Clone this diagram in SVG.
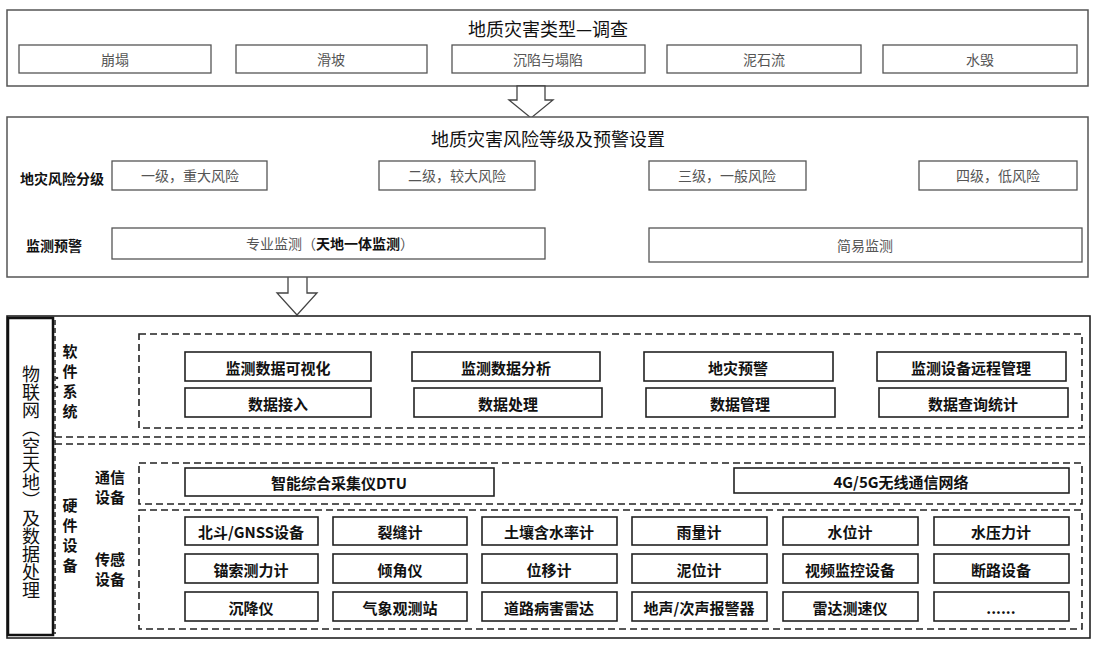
<svg xmlns="http://www.w3.org/2000/svg" width="1097" height="645" viewBox="0 0 1097 645">
<style>
text{font-family:"Noto Sans CJK SC","Noto Sans",sans-serif;text-anchor:middle;dominant-baseline:central}
.frame{fill:#fff;stroke:#555;stroke-width:1.5}
.g{fill:#fff;stroke:#555;stroke-width:1.3}
.gt{font-size:14px;fill:#555}
.ttl{font-size:18px;fill:#111}
.lbl{font-size:14px;font-weight:bold;fill:#111}
.b{fill:#fff;stroke:#222;stroke-width:1.6}
.bt{font-size:15px;font-weight:bold;fill:#111}
.d{fill:none;stroke:#222;stroke-width:1.6;stroke-dasharray:7,4}
.arr{fill:#fff;stroke:#444;stroke-width:1.3}
.v{writing-mode:vertical-rl;text-anchor:start;dominant-baseline:central}
</style>
<rect width="1097" height="645" fill="#fff"/>
<g id="survey">
<rect class="frame" x="7" y="10" width="1081" height="76"/>
<text class="ttl" x="548" y="28">地质灾害类型—调查</text>
<rect class="g" x="19" y="45" width="192" height="28"/><text class="gt" x="115" y="59">崩塌</text>
<rect class="g" x="236" y="45" width="191" height="28"/><text class="gt" x="331" y="59">滑坡</text>
<rect class="g" x="452" y="45" width="193" height="28"/><text class="gt" x="548" y="59">沉陷与塌陷</text>
<rect class="g" x="667" y="45" width="194" height="28"/><text class="gt" x="764" y="59">泥石流</text>
<rect class="g" x="883" y="45" width="194" height="28"/><text class="gt" x="980" y="59">水毁</text>
</g>
<g id="connectors">
<path class="arr" d="M517,86 H545 V100 H553 L531,118 L509,100 H517 Z"/>
<path class="arr" d="M183,193 H199 V209 H209 L191,227 L173,209 H183 Z"/>
<path class="arr" d="M452,193 H468 V209 H478 L460,227 L442,209 H452 Z"/>
<path class="arr" d="M723,193 H739 V209 H749 L731,227 L713,209 H723 Z"/>
<path class="arr" d="M995,193 H1011 V209 H1021 L1003,227 L985,209 H995 Z"/>
<path class="arr" d="M288,261 H307 V293 H317 L297,315 L277,293 H288 Z"/>
</g>
<g id="risk">
<rect class="frame" x="7" y="117" width="1081" height="160"/>
<text class="ttl" x="548" y="138">地质灾害风险等级及预警设置</text>
<text class="lbl" x="62" y="178">地灾风险分级</text>
<rect class="g" x="112" y="161" width="155" height="29"/><text class="gt" x="190" y="175">一级，重大风险</text>
<rect class="g" x="379" y="161" width="156" height="29"/><text class="gt" x="457" y="175">二级，较大风险</text>
<rect class="g" x="649" y="161" width="157" height="29"/><text class="gt" x="727" y="175">三级，一般风险</text>
<rect class="g" x="919" y="161" width="158" height="29"/><text class="gt" x="998" y="175">四级，低风险</text>
<text class="lbl" x="54" y="245">监测预警</text>
<rect class="g" x="112" y="228" width="433" height="31"/>
<text class="gt" x="330" y="243">专业监测（<tspan font-weight="bold" fill="#111">天地一体监测</tspan>）</text>
<rect class="g" x="649" y="228" width="433" height="34"/><text class="gt" x="865" y="245">简易监测</text>
</g>
<g id="iot">
<rect class="b" x="7" y="316" width="1083" height="322"/>
<rect fill="#fff" stroke="#111" stroke-width="2.5" x="8" y="318" width="45" height="317"/>
<text class="v" x="31" y="365" font-size="18" fill="#111">物联网（空天地）及数据处理</text>
<line x1="55" y1="320" x2="55" y2="634" stroke="#222" stroke-width="1.5" stroke-dasharray="5,3"/>
<circle cx="57" cy="378" r="1.3" fill="#222"/><circle cx="57" cy="387" r="1.3" fill="#222"/>
<line class="d" x1="55" y1="437" x2="1090" y2="437"/>
<line class="d" x1="55" y1="444" x2="1090" y2="444"/>
</g>
<g id="software">
<text class="v bt" x="70" y="344" font-size="15" letter-spacing="5">软件系统</text>
<rect class="d" x="139" y="334" width="943" height="94"/>
<rect class="b" x="185" y="352" width="186" height="29"/><text class="bt" x="278" y="367">监测数据可视化</text>
<rect class="b" x="412" y="352" width="188" height="29"/><text class="bt" x="506" y="367">监测数据分析</text>
<rect class="b" x="644" y="352" width="189" height="29"/><text class="bt" x="738" y="367">地灾预警</text>
<rect class="b" x="877" y="352" width="189" height="29"/><text class="bt" x="971" y="367">监测设备远程管理</text>
<rect class="b" x="185" y="388" width="186" height="29"/><text class="bt" x="278" y="403">数据接入</text>
<rect class="b" x="414" y="388" width="188" height="29"/><text class="bt" x="508" y="403">数据处理</text>
<rect class="b" x="646" y="388" width="189" height="29"/><text class="bt" x="740" y="403">数据管理</text>
<rect class="b" x="879" y="388" width="189" height="29"/><text class="bt" x="973" y="403">数据查询统计</text>
</g>
<g id="hardware">
<text class="v bt" x="70" y="498" font-size="15" letter-spacing="5">硬件设备</text>
<text class="bt" x="110" y="476">通信</text><text class="bt" x="110" y="496">设备</text>
<text class="bt" x="110" y="558">传感</text><text class="bt" x="110" y="578">设备</text>
<rect class="d" x="139" y="463" width="943" height="41"/>
<rect class="b" x="185" y="468" width="309" height="28"/><text class="bt" x="339" y="482">智能综合采集仪DTU</text>
<rect class="b" x="734" y="468" width="335" height="25"/><text class="bt" x="901" y="481">4G/5G无线通信网络</text>
<rect class="d" x="139" y="510" width="943" height="119"/>
<rect class="b" x="185" y="517" width="133" height="28"/><text class="bt" x="251" y="531">北斗/GNSS设备</text>
<rect class="b" x="333" y="517" width="134" height="28"/><text class="bt" x="400" y="531">裂缝计</text>
<rect class="b" x="482" y="517" width="135" height="28"/><text class="bt" x="549" y="531">土壤含水率计</text>
<rect class="b" x="632" y="517" width="135" height="28"/><text class="bt" x="699" y="531">雨量计</text>
<rect class="b" x="783" y="517" width="135" height="28"/><text class="bt" x="850" y="531">水位计</text>
<rect class="b" x="934" y="517" width="135" height="28"/><text class="bt" x="1001" y="531">水压力计</text>
<rect class="b" x="185" y="554" width="133" height="29"/><text class="bt" x="251" y="569">锚索测力计</text>
<rect class="b" x="333" y="554" width="134" height="29"/><text class="bt" x="400" y="569">倾角仪</text>
<rect class="b" x="482" y="554" width="135" height="29"/><text class="bt" x="549" y="569">位移计</text>
<rect class="b" x="632" y="554" width="135" height="29"/><text class="bt" x="699" y="569">泥位计</text>
<rect class="b" x="783" y="554" width="135" height="29"/><text class="bt" x="850" y="569">视频监控设备</text>
<rect class="b" x="934" y="554" width="135" height="29"/><text class="bt" x="1001" y="569">断路设备</text>
<rect class="b" x="185" y="592" width="133" height="29"/><text class="bt" x="251" y="607">沉降仪</text>
<rect class="b" x="333" y="592" width="134" height="29"/><text class="bt" x="400" y="607">气象观测站</text>
<rect class="b" x="482" y="592" width="135" height="29"/><text class="bt" x="549" y="607">道路病害雷达</text>
<rect class="b" x="632" y="592" width="135" height="29"/><text class="bt" x="699" y="607">地声/次声报警器</text>
<rect class="b" x="783" y="592" width="135" height="29"/><text class="bt" x="850" y="607">雷达测速仪</text>
<rect class="b" x="934" y="592" width="135" height="29"/><text class="bt" x="1001" y="607">......</text>
</g>
</svg>
